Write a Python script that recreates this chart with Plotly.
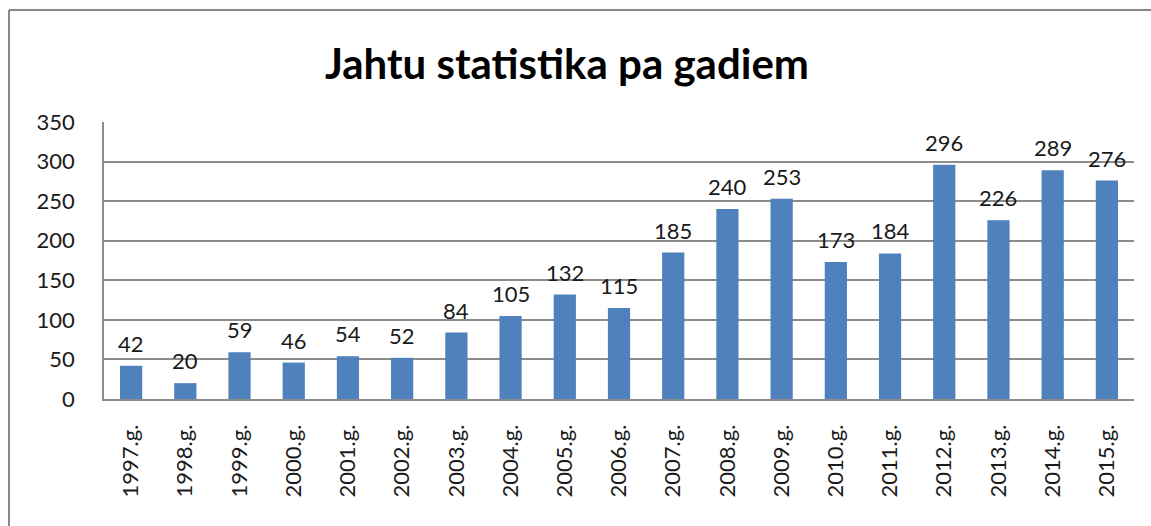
import plotly.graph_objects as go

years = ['1997.g.', '1998.g.', '1999.g.', '2000.g.', '2001.g.', '2002.g.', '2003.g.',
         '2004.g.', '2005.g.', '2006.g.', '2007.g.', '2008.g.', '2009.g.', '2010.g.',
         '2011.g.', '2012.g.', '2013.g.', '2014.g.', '2015.g.']
counts = [42, 20, 59, 46, 54, 52, 84, 105, 132, 115, 185, 240, 253, 173, 184, 296, 226, 289, 276]

FONT = 'Lato, Carlito, Calibri, sans-serif'
BAR = '#4F81BD'
GRID = '#8C8C8C'

W, H = 1151, 526
L, R, T, B = 104, 17, 122, 127
pw, ph = W - L - R, H - T - B


def px_x(p):
    return (p - L) / pw


def px_y(p):
    return (H - B - p) / ph


fig = go.Figure()

fig.add_trace(go.Bar(
    x=years,
    y=counts,
    marker=dict(color=BAR, line=dict(width=0)),
    hovertemplate='%{x}: %{y}<extra></extra>',
))

# value labels, lifted a bit above the bars like in the original
for yr, n in zip(years, counts):
    fig.add_annotation(
        x=yr, y=n, text=str(n),
        showarrow=False, yanchor='bottom', yshift=7,
        font=dict(family=FONT, size=22, color='#1a1a1a'),
    )

# outer chart frame (only left and top edges are visible)
fig.add_shape(type='line', xref='paper', yref='paper',
              x0=px_x(9), x1=px_x(9), y0=px_y(560), y1=px_y(10),
              line=dict(color='#878787', width=2))
fig.add_shape(type='line', xref='paper', yref='paper',
              x0=px_x(9), x1=px_x(1160), y0=px_y(10), y1=px_y(10),
              line=dict(color='#878787', width=2))

fig.update_layout(
    width=W, height=H,
    margin=dict(l=L, r=R, t=T, b=B),
    title=dict(
        text='<b>Jahtu statistika pa gadiem</b>',
        font=dict(family=FONT, size=42, color='#000000'),
        x=567 / W, xanchor='center',
        y=1 - 64 / H, yanchor='middle',
    ),
    bargap=0.59,
    showlegend=False,
    paper_bgcolor='white',
    plot_bgcolor='white',
    xaxis=dict(
        tickangle=-90,
        tickfont=dict(family=FONT, size=22, color='#1a1a1a'),
        showline=True, linecolor=GRID, linewidth=1.5,
        showgrid=False,
        ticks='outside', ticklen=15, tickcolor='rgba(0,0,0,0)',
    ),
    yaxis=dict(
        range=[0, 350],
        dtick=50,
        tickfont=dict(family=FONT, size=22, color='#1a1a1a'),
        showline=True, linecolor=GRID, linewidth=1.5,
        showgrid=True, gridcolor=GRID, gridwidth=1.5,
        zeroline=False,
        ticks='outside', ticklen=23, tickcolor='rgba(0,0,0,0)',
    ),
)

fig.write_html('out.html', config={'displayModeBar': False},
               post_script="document.body.style.margin='0';")
